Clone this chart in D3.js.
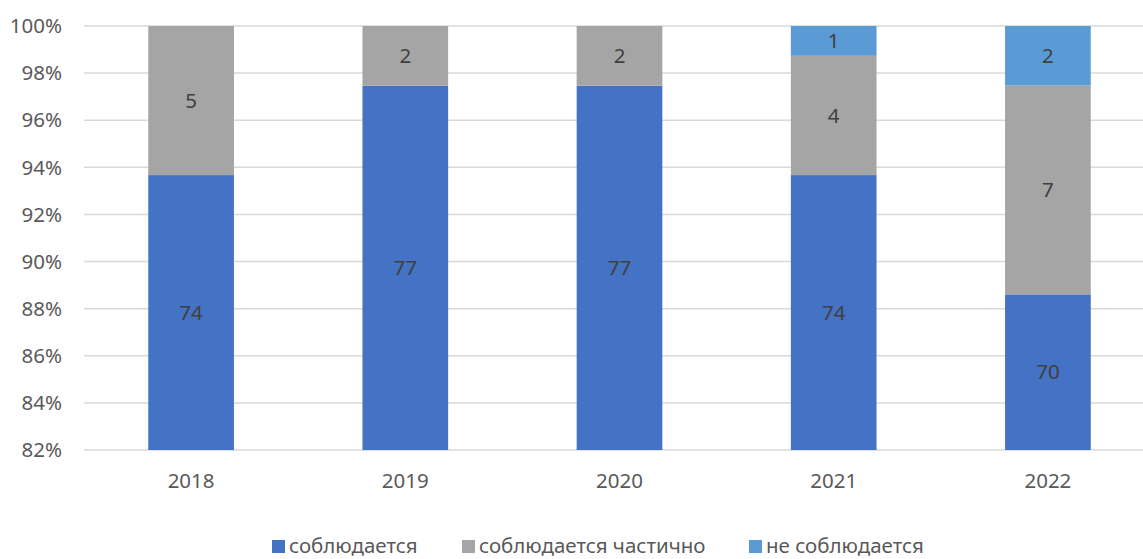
<!DOCTYPE html>
<html><head><meta charset="utf-8">
<script src="https://cdn.jsdelivr.net/npm/d3@7"></script>
<style>body{margin:0;background:#fff}svg{display:block}text{font-family:"Noto Sans",sans-serif}</style>
</head><body>
<svg id="chart" width="1143" height="559"></svg>
<script>
const years = ["2018","2019","2020","2021","2022"];
const seriesNames = ["соблюдается","соблюдается частично","не соблюдается"];
const observed = [74,77,77,74,70];
const partial = [5,2,2,4,7];
const notObserved = [0,0,0,1,2];
const colors = ["#4472C4","#A5A5A5","#5B9BD5"];
const yTicks = [0.82,0.84,0.86,0.88,0.90,0.92,0.94,0.96,0.98,1.00];

(function(){
const svg = d3.select("#chart");
const pLeft = 84, pRight = 1155, pTop = 26, pBottom = 450;
const fs = 20.5;
const x = d3.scaleBand().domain(years).range([pLeft,pRight]).paddingInner(0.6).paddingOuter(0.3);
const y = d3.scaleLinear().domain([0.82,1]).range([pBottom,pTop]);

svg.append("g").selectAll("line").data(yTicks).join("line")
  .attr("x1",pLeft).attr("x2",pRight)
  .attr("y1",d=>y(d)).attr("y2",d=>y(d))
  .attr("stroke","#D9D9D9").attr("stroke-width",1.5);

svg.append("g").selectAll("text").data(yTicks).join("text")
  .attr("x",62).attr("y",d=>y(d)).attr("dy","0.35em")
  .attr("text-anchor","end").attr("font-size",fs).attr("fill","#595959")
  .text(d=>d3.format(".0%")(d));

const rows = years.map((yr,i)=>({year:yr, s0:observed[i], s1:partial[i], s2:notObserved[i]}));
const stack = d3.stack().keys(["s0","s1","s2"]).offset(d3.stackOffsetExpand);
const layers = stack(rows);

svg.append("clipPath").attr("id","pc").append("rect")
  .attr("x",pLeft).attr("y",pTop).attr("width",pRight-pLeft).attr("height",pBottom-pTop);

const g = svg.append("g").attr("clip-path","url(#pc)");
layers.forEach((layer,k)=>{
  g.append("g").selectAll("rect").data(layer.filter(d=>d[1]-d[0]>0)).join("rect")
    .attr("x",d=>x(d.data.year)).attr("width",x.bandwidth())
    .attr("y",d=>y(d[1])).attr("height",d=>y(Math.max(d[0],0.82))-y(d[1]))
    .attr("fill",colors[k]);
});

layers.forEach((layer,k)=>{
  svg.append("g").selectAll("text").data(layer.filter(d=>d[1]-d[0]>0)).join("text")
    .attr("x",d=>x(d.data.year)+x.bandwidth()/2)
    .attr("y",d=>(y(Math.max(d[0],0.82))+y(d[1]))/2)
    .attr("dy","0.35em").attr("text-anchor","middle")
    .attr("font-size",fs).attr("fill","#404040")
    .text(d=>d.data[layer.key]);
});

svg.append("g").selectAll("text").data(years).join("text")
  .attr("x",d=>x(d)+x.bandwidth()/2).attr("y",481).attr("dy","0.35em")
  .attr("text-anchor","middle").attr("font-size",fs).attr("fill","#595959")
  .text(d=>d);

const legX = [272,462,749];
const lg = svg.append("g");
seriesNames.forEach((n,i)=>{
  lg.append("rect").attr("x",legX[i]).attr("y",540).attr("width",13).attr("height",13).attr("fill",colors[i]);
  lg.append("text").attr("x",legX[i]+17).attr("y",546).attr("dy","0.35em")
    .attr("font-size",fs).attr("fill","#595959").text(n);
});
})();
</script>
</body></html>
